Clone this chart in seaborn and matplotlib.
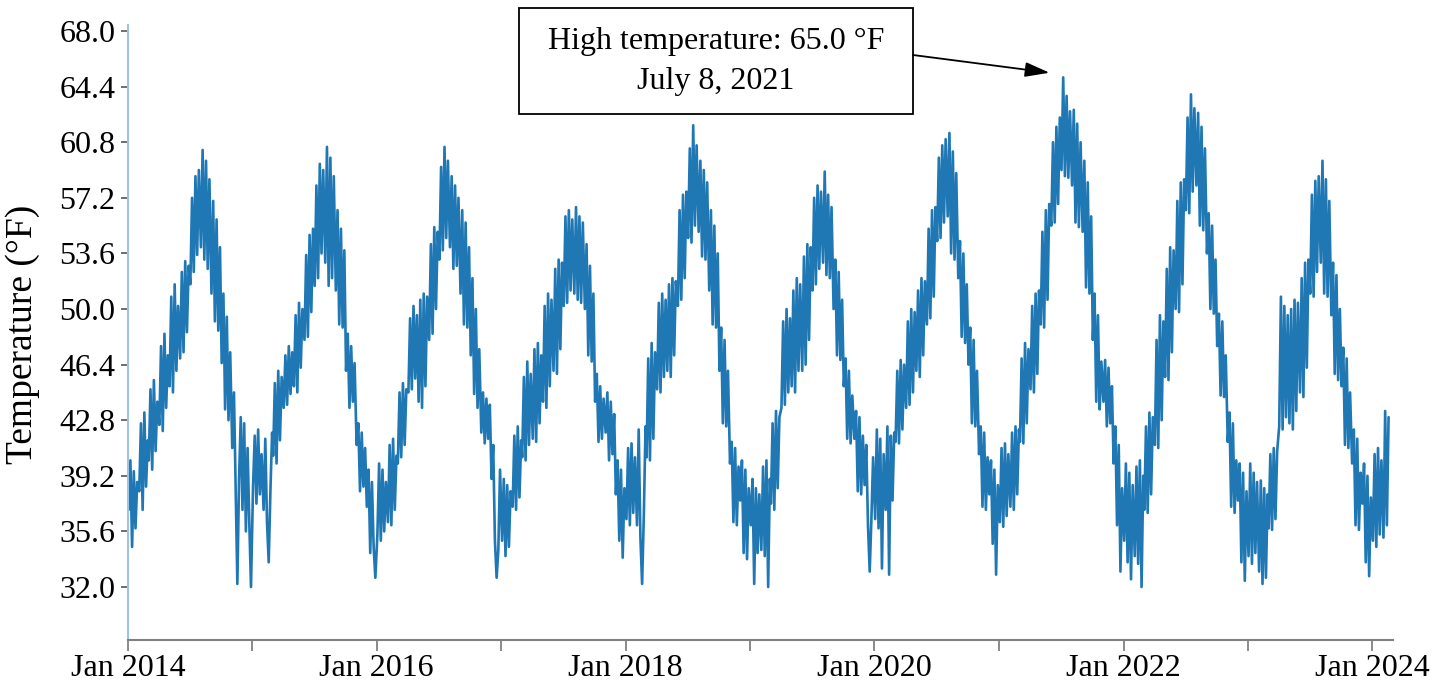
import matplotlib
matplotlib.use("Agg")
import matplotlib.pyplot as plt
import matplotlib.dates as mdates
from matplotlib.patches import Rectangle
import pandas as pd
import seaborn as sns

# readings every 5 days (3rd, 8th, 13th, 18th, 23rd, 28th of each month), deg F
sample_days = [3, 8, 13, 18, 23, 28]
years = list(range(2014, 2025))

temps_2014 = [37.0, 40.2, 34.6, 39.5, 35.8, 38.8, 38.2, 42.6, 37.0, 43.3, 38.5, 41.5,
              40.2, 44.8, 39.6, 45.4, 40.8, 44.0, 42.5, 47.6, 42.1, 48.4, 43.6, 47.0,
              45.0, 50.8, 44.6, 51.6, 46.0, 50.2, 46.8, 52.4, 47.2, 53.1, 48.5, 52.8,
              51.6, 57.2, 52.4, 58.6, 53.5, 59.0, 54.0, 60.3, 53.2, 59.6, 52.6, 58.4,
              51.0, 57.0, 49.2, 55.8, 48.6, 54.0, 46.5, 51.0, 43.5, 49.5, 42.8, 47.2,
              41.0, 44.6, 38.4, 32.2, 39.0, 43.0, 37.0, 42.6, 35.6, 41.0, 36.2, 32.0]
temps_2015 = [38.5, 41.8, 37.4, 42.2, 38.0, 40.6, 37.0, 41.6, 36.2, 33.6, 38.2, 42.0,
              40.5, 45.2, 40.0, 46.0, 41.5, 45.6, 43.6, 47.0, 43.8, 47.6, 44.5, 47.2,
              45.0, 49.6, 44.6, 50.4, 46.2, 50.0, 48.0, 53.5, 48.2, 54.8, 49.8, 55.2,
              51.5, 58.0, 52.0, 59.4, 53.6, 59.0, 53.0, 60.5, 51.5, 59.8, 52.0, 58.6,
              51.2, 56.4, 49.0, 55.2, 48.8, 53.8, 46.0, 48.4, 43.6, 47.6, 44.0, 46.5,
              41.2, 42.6, 38.2, 42.0, 38.5, 41.0, 37.2, 39.6, 34.2, 38.8, 34.6, 32.6]
temps_2016 = [35.4, 40.0, 35.0, 39.6, 35.6, 38.8, 36.2, 41.2, 36.0, 41.6, 37.0, 40.5,
              40.0, 44.6, 40.4, 45.2, 41.2, 44.8, 44.6, 49.4, 44.8, 50.2, 45.5, 49.6,
              44.0, 50.6, 43.6, 51.0, 45.0, 50.8, 48.0, 54.2, 48.4, 55.3, 50.0, 55.0,
              53.2, 59.2, 53.8, 60.5, 54.6, 59.6, 54.0, 58.6, 52.6, 58.0, 52.8, 57.2,
              51.0, 56.4, 49.0, 55.6, 48.8, 54.0, 47.0, 52.0, 44.5, 50.0, 43.6, 47.4,
              42.0, 44.6, 41.3, 44.2, 41.6, 43.8, 39.0, 41.2, 35.0, 32.6, 34.4, 39.6]
temps_2017 = [35.0, 39.0, 34.0, 38.6, 34.6, 38.2, 37.2, 41.8, 37.0, 42.4, 37.8, 41.5,
              40.4, 45.6, 40.2, 46.6, 41.2, 45.8, 41.6, 47.4, 41.4, 47.8, 42.6, 47.0,
              44.0, 50.2, 43.6, 51.0, 45.0, 50.6, 46.0, 52.6, 45.8, 53.2, 47.4, 53.0,
              50.2, 56.0, 50.4, 56.4, 51.2, 55.8, 51.0, 56.6, 50.6, 56.0, 50.4, 55.6,
              50.0, 54.2, 47.0, 52.8, 46.6, 51.0, 44.0, 45.8, 41.4, 45.0, 41.6, 44.2,
              42.0, 44.6, 40.2, 44.0, 40.6, 43.2, 38.0, 40.2, 35.0, 39.6, 33.9, 38.4]
temps_2018 = [36.4, 41.0, 36.0, 41.3, 36.8, 40.4, 36.0, 42.2, 35.2, 32.2, 36.6, 42.4,
              40.4, 46.8, 40.2, 47.8, 41.6, 47.2, 44.8, 50.4, 44.6, 51.0, 45.6, 50.6,
              46.0, 51.6, 45.6, 52.0, 47.0, 51.8, 50.2, 56.4, 50.6, 57.4, 52.0, 57.6,
              54.6, 60.4, 54.3, 61.9, 55.4, 60.6, 55.0, 59.6, 53.4, 59.0, 53.2, 58.2,
              51.2, 56.4, 49.0, 55.4, 48.8, 53.6, 46.0, 48.8, 42.6, 48.0, 42.4, 46.0,
              40.0, 41.4, 36.2, 41.0, 36.0, 39.8, 37.6, 40.2, 34.2, 39.6, 33.8, 38.4]
temps_2019 = [36.0, 39.0, 32.2, 38.4, 34.2, 38.0, 34.4, 39.8, 34.0, 40.2, 32.0, 39.0,
              37.4, 42.6, 37.0, 43.4, 38.4, 43.0, 43.6, 49.2, 43.8, 50.0, 44.6, 49.4,
              45.0, 51.2, 44.6, 52.0, 46.0, 51.6, 46.0, 53.4, 46.4, 54.2, 48.0, 54.0,
              51.2, 57.2, 51.6, 58.0, 52.6, 57.6, 53.0, 58.9, 52.2, 57.4, 52.0, 56.6,
              50.0, 53.2, 47.0, 52.4, 46.7, 50.6, 45.0, 46.8, 41.6, 46.0, 41.3, 44.4,
              41.6, 43.4, 38.2, 43.0, 38.0, 41.8, 38.6, 41.2, 36.0, 33.0, 36.4, 40.4]
temps_2020 = [36.4, 42.2, 35.8, 41.6, 33.2, 40.6, 37.0, 42.4, 32.8, 41.8, 37.6, 42.0,
              41.4, 46.0, 41.3, 46.7, 42.2, 46.4, 43.6, 49.2, 43.8, 50.0, 44.6, 49.8,
              46.0, 51.2, 45.6, 52.0, 47.0, 51.8, 49.0, 55.2, 49.4, 56.4, 50.8, 56.6,
              54.4, 59.8, 54.6, 60.6, 55.6, 61.0, 56.0, 61.4, 53.6, 60.2, 53.2, 58.8,
              52.0, 54.4, 48.2, 53.6, 47.8, 51.6, 46.4, 48.8, 42.6, 48.0, 42.4, 46.0,
              40.6, 42.4, 37.2, 42.0, 37.0, 40.4, 38.0, 40.2, 34.8, 39.6, 32.8, 38.6]
temps_2021 = [36.2, 41.0, 35.9, 41.3, 36.6, 40.6, 37.2, 42.0, 37.0, 42.4, 38.0, 42.2,
              41.4, 46.8, 41.3, 47.8, 42.6, 47.4, 44.8, 50.2, 44.6, 51.0, 45.8, 51.2,
              49.0, 55.0, 48.8, 56.4, 50.6, 56.8, 55.4, 60.8, 55.6, 61.8, 56.8, 62.4,
              59.0, 65.0, 58.6, 63.8, 58.5, 62.8, 58.0, 62.9, 55.6, 62.0, 55.3, 60.8,
              55.0, 59.6, 51.4, 58.2, 51.0, 56.0, 48.0, 51.0, 44.0, 49.6, 43.5, 46.6,
              44.0, 46.7, 42.4, 46.2, 42.6, 45.0, 40.0, 42.4, 36.0, 41.2, 33.0, 38.4]
temps_2022 = [35.0, 40.0, 33.6, 39.4, 32.5, 38.6, 34.0, 39.8, 33.5, 40.2, 32.0, 39.2,
              37.0, 42.4, 36.8, 43.3, 38.0, 43.0, 41.2, 48.0, 41.0, 49.6, 42.8, 49.2,
              45.6, 52.6, 45.4, 54.0, 47.2, 53.8, 50.0, 57.0, 49.8, 58.2, 51.6, 58.4,
              56.4, 62.4, 56.2, 63.9, 57.6, 63.0, 58.0, 62.7, 55.4, 61.8, 55.1, 60.4,
              53.6, 56.2, 50.0, 55.4, 49.7, 53.2, 47.6, 49.7, 44.4, 49.2, 44.3, 47.0,
              41.4, 43.3, 37.2, 42.6, 36.8, 40.2, 37.6, 40.0, 33.6, 39.4, 32.4, 38.2]
temps_2023 = [34.0, 40.0, 33.5, 39.4, 34.2, 38.8, 33.0, 38.9, 32.2, 38.4, 32.6, 38.0,
              35.8, 40.6, 35.7, 41.0, 36.4, 40.8, 42.4, 50.8, 42.2, 50.2, 43.0, 49.6,
              42.6, 50.0, 42.2, 50.6, 43.4, 50.4, 44.6, 52.0, 44.3, 53.0, 46.2, 53.2,
              51.0, 57.4, 50.8, 58.3, 52.4, 58.6, 53.0, 59.6, 51.0, 58.4, 50.8, 57.0,
              49.6, 53.0, 45.8, 52.2, 45.4, 50.0, 45.0, 47.5, 41.2, 46.8, 41.0, 44.6,
              40.0, 42.2, 36.0, 41.6, 35.7, 39.4, 37.4, 40.0, 33.6, 39.2, 32.7, 37.8]
temps_2024 = [35.0, 40.6, 34.6, 41.0, 35.4, 40.2, 35.2, 43.4, 36.0, 43.0]

yticks = [32.0, 35.6, 39.2, 42.8, 46.4, 50.0, 53.6, 57.2, 60.8, 64.4, 68.0]
xtick_years = list(range(2014, 2025))

all_temps = [temps_2014, temps_2015, temps_2016, temps_2017, temps_2018, temps_2019,
             temps_2020, temps_2021, temps_2022, temps_2023, temps_2024]
dates, temps = [], []
for yr, vals in zip(years, all_temps):
    for i, v in enumerate(vals):
        dates.append(pd.Timestamp(yr, i // 6 + 1, sample_days[i % 6]))
        temps.append(v)
df = pd.DataFrame({"date": dates, "temp": temps})

sns.set_theme(style="white")
plt.rcParams["font.family"] = ["Liberation Serif", "DejaVu Serif"]
plt.rcParams["text.color"] = "black"

W, H = 1452, 689
fig = plt.figure(figsize=(W / 100, H / 100), dpi=100)
ax = fig.add_axes([128 / W, 1 - 640 / H, (1393 - 128) / W, (640 - 25) / H])

sns.lineplot(data=df, x="date", y="temp", ax=ax, color="#1f77b4", linewidth=1.9)

ax.set_ylim(28.57, 68.39)
ax.set_yticks(yticks)
ax.set_yticklabels([f"{t:.1f}" for t in yticks])
ax.set_xlim(pd.Timestamp("2014-01-01"), pd.Timestamp("2024-03-02"))
ax.set_xticks([pd.Timestamp(y, 1, 1) for y in xtick_years])
ax.set_xticklabels([f"Jan {y}" if y % 2 == 0 else "" for y in xtick_years])

ax.tick_params(axis="y", left=True, direction="out", length=5, width=1.2,
               color="#555555", labelsize=23, pad=4, labelcolor="black")
ax.tick_params(axis="x", bottom=True, direction="out", length=8, width=1.2,
               color="#777777", labelsize=23, pad=2, labelcolor="black")
for s in ["top", "right"]:
    ax.spines[s].set_visible(False)
ax.spines["left"].set_color("#9dc3e6")
ax.spines["left"].set_linewidth(1.5)
ax.spines["bottom"].set_color("#808080")
ax.spines["bottom"].set_linewidth(1.5)

ax.set_xlabel("")
ax.set_ylabel("Temperature (°F)", fontsize=27, color="black")
ax.yaxis.set_label_coords(-0.0696, 0.497)

# annotation box for the record high
peak = df.loc[df["temp"].idxmax()]
fig.add_artist(Rectangle((519 / W, 1 - 114 / H), (913 - 519) / W, (114 - 8) / H,
                         transform=fig.transFigure, fill=False, edgecolor="black", lw=1.3))
fig.text(716 / W, 1 - 62 / H,
         f"High temperature: {peak['temp']:.1f} °F\n{peak['date'].strftime('%B')} {peak['date'].day}, {peak['date'].year}",
         ha="center", va="center", fontsize=23, linespacing=1.5, color="black")
ax.annotate("", xy=(mdates.date2num(peak["date"] - pd.Timedelta(days=40)), peak["temp"] + 0.3),
            xytext=(913 / W, 1 - 55 / H), textcoords="figure fraction",
            arrowprops=dict(arrowstyle="-|>,head_length=0.6,head_width=0.18",
                            mutation_scale=25, color="black", lw=1.3,
                            shrinkA=0, shrinkB=0))

fig.savefig("out.png", dpi=100)
